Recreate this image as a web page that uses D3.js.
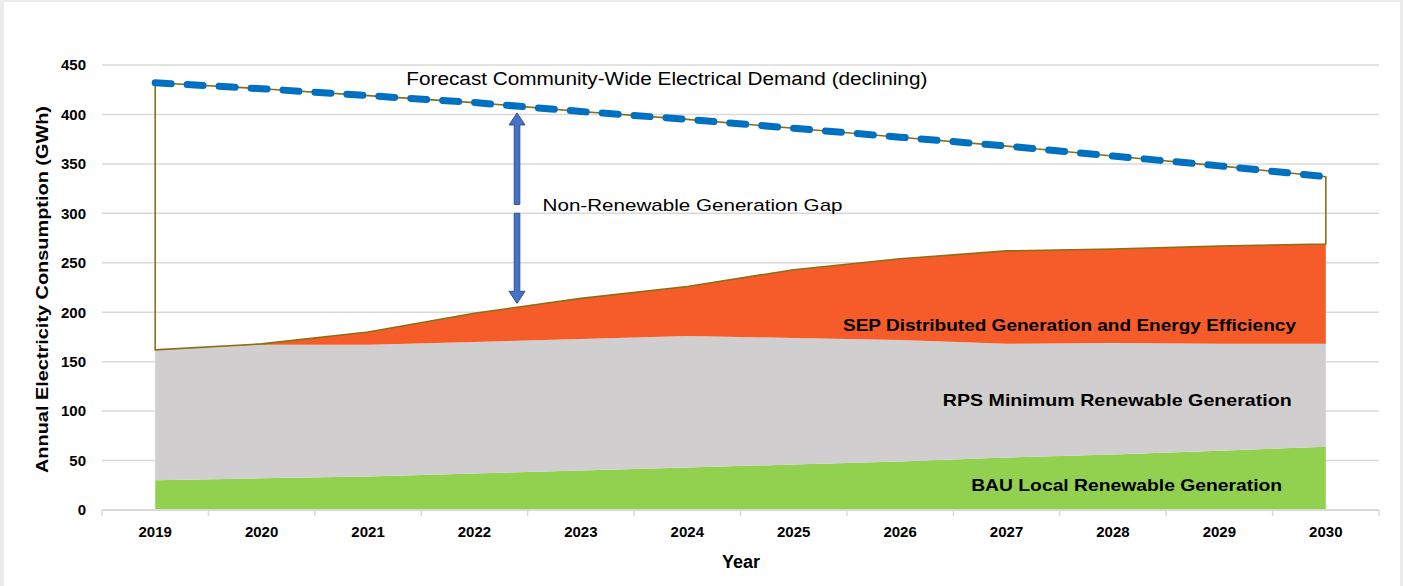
<!DOCTYPE html>
<html>
<head>
<meta charset="utf-8">
<script src="https://cdn.jsdelivr.net/npm/d3@7"></script>
<style>
  body { margin: 0; background: #ececec; }
  svg { display: block; }
  text { font-family: "Liberation Sans", Arial, sans-serif; fill: #000; }
</style>
</head>
<body>
<div class="chart"></div>
<script>
var width = 1403, height = 586;

// data (GWh)
var years = [2019, 2020, 2021, 2022, 2023, 2024, 2025, 2026, 2027, 2028, 2029, 2030];
var demand = [432, 426, 419, 412, 403, 395, 386, 377, 368, 358, 348, 337];
var bau = [30, 32, 34, 37, 40, 43, 46, 49, 53, 56, 60, 64];
var rps = [132, 135, 133, 133, 133, 133, 128, 123, 115, 113, 108, 104];
var sep = [0, 1, 13, 29, 41, 50, 69, 82, 94, 95, 99, 101];
var y_ticks = [0, 50, 100, 150, 200, 250, 300, 350, 400, 450];
var series_keys = ["bau", "rps", "sep"];
var series_colors = { bau: "#92D050", rps: "#D0CECE", sep: "#F65C2A" };

var margin = { top: 65, bottom: 76, left: 102, right: 24 };

var svg = d3.select(".chart").append("svg")
    .attr("width", width)
    .attr("height", height);

// white panel
svg.append("rect")
    .attr("x", 4).attr("y", 2)
    .attr("width", 1396).attr("height", height - 2)
    .attr("fill", "#fff");

var x_band = d3.scaleBand()
    .domain(years)
    .range([margin.left, width - margin.right]);

var x = d3.scalePoint()
    .domain(years)
    .range([margin.left, width - margin.right])
    .padding(0.5);

var y = d3.scaleLinear()
    .domain([0, 450])
    .range([height - margin.bottom, margin.top]);

// x value between categories (for annotations)
var x_mid = d3.scaleLinear()
    .domain([years[0], years[years.length - 1]])
    .range([x(years[0]), x(years[years.length - 1])]);

// gridlines
svg.append("g")
    .selectAll("line")
    .data(y_ticks.slice(1))
    .enter().append("line")
    .attr("x1", margin.left).attr("x2", width - margin.right)
    .attr("y1", d => y(d)).attr("y2", d => y(d))
    .attr("stroke", "#d9d9d9")
    .attr("stroke-width", 1.5);

// y axis labels
var y_axis = svg.append("g")
    .attr("transform", "translate(" + margin.left + ",0)")
    .call(d3.axisLeft(y).tickValues(y_ticks).tickSize(0).tickPadding(16));
y_axis.select(".domain").remove();
y_axis.selectAll("text")
    .attr("font-size", "15px")
    .attr("font-weight", "bold")
    .attr("font-family", "Liberation Sans, Arial, sans-serif");

// stacked areas
var table = years.map((yr, i) => ({ year: yr, bau: bau[i], rps: rps[i], sep: sep[i] }));
var stack = d3.stack().keys(series_keys)(table);

var area = d3.area()
    .x(d => x(d.data.year))
    .y0(d => y(d[0]))
    .y1(d => y(d[1]));

svg.append("g")
    .selectAll("path")
    .data(stack)
    .enter().append("path")
    .attr("d", area)
    .attr("fill", d => series_colors[d.key]);

// x axis
var x_axis_y = height - margin.bottom;
var x_axis = svg.append("g")
    .attr("transform", "translate(0," + x_axis_y + ")")
    .call(d3.axisBottom(x_band).tickSize(0).tickPadding(16));
x_axis.select(".domain")
    .attr("stroke", "#d9d9d9")
    .attr("stroke-width", 2)
    .attr("d", "M" + margin.left + ",0H" + (width - margin.right));
x_axis.selectAll("text")
    .attr("font-size", "15px")
    .attr("font-weight", "bold")
    .attr("font-family", "Liberation Sans, Arial, sans-serif");
// ticks on category edges
x_axis.append("g")
    .selectAll("line")
    .data(years.map(d => x_band(d)).concat([width - margin.right]))
    .enter().append("line")
    .attr("x1", d => d).attr("x2", d => d)
    .attr("y1", 0).attr("y2", 6)
    .attr("stroke", "#d9d9d9")
    .attr("stroke-width", 1.5);

// outline of the gap
var total = table.map(d => d.bau + d.rps + d.sep);
var gap_pts = years.map((yr, i) => [x(yr), y(demand[i])])
    .concat(years.slice().reverse().map((yr, i) => [x(yr), y(total[years.length - 1 - i])]));
svg.append("path")
    .attr("d", d3.line()(gap_pts) + "Z")
    .attr("fill", "none")
    .attr("stroke", "#8B6F14")
    .attr("stroke-width", 1.6);

// demand dashed line
svg.append("path")
    .datum(demand)
    .attr("d", d3.line().x((d, i) => x(years[i])).y(d => y(d)))
    .attr("fill", "none")
    .attr("stroke", "#0070C0")
    .attr("stroke-width", 7)
    .attr("stroke-linecap", "round")
    .attr("stroke-dasharray", "16 16");

// double arrow for the gap (values in GWh, broken where the label sits)
var arrow_year = 2022.4;
var arrow_top = 401.5, arrow_bottom = 209, arrow_break = [309, 300];
function arrowPath(x0, yTail, yTip) {
    var dir = yTip < yTail ? -1 : 1;
    var hw = 2.8, hh = 8, hl = 12;
    var yb = yTip - dir * hl;
    return "M" + (x0 - hw) + "," + yTail +
        "L" + (x0 - hw) + "," + yb +
        "L" + (x0 - hh) + "," + yb +
        "L" + x0 + "," + yTip +
        "L" + (x0 + hh) + "," + yb +
        "L" + (x0 + hw) + "," + yb +
        "L" + (x0 + hw) + "," + yTail + "Z";
}
var ax = x_mid(arrow_year);
svg.append("path")
    .attr("d", arrowPath(ax, y(arrow_break[0]), y(arrow_top)))
    .attr("fill", "#4472C4").attr("stroke", "#2F528F").attr("stroke-width", 1);
svg.append("path")
    .attr("d", arrowPath(ax, y(arrow_break[1]), y(arrow_bottom)))
    .attr("fill", "#4472C4").attr("stroke", "#2F528F").attr("stroke-width", 1);

// annotations
var labels = [
    { text: "Forecast Community-Wide Electrical Demand (declining)", year: 2021.36, value: 430, anchor: "start", size: 18, weight: "normal", len: 521 },
    { text: "Non-Renewable Generation Gap", year: 2022.64, value: 302, anchor: "start", size: 17, weight: "normal", len: 300 },
    { text: "SEP Distributed Generation and Energy Efficiency", year: 2030 - 0.28, value: 181, anchor: "end", size: 17, weight: "bold", len: 453 },
    { text: "RPS Minimum Renewable Generation", year: 2030 - 0.32, value: 105, anchor: "end", size: 17, weight: "bold", len: 349 },
    { text: "BAU Local Renewable Generation", year: 2030 - 0.41, value: 19, anchor: "end", size: 17, weight: "bold", len: 311 }
];
svg.append("g")
    .selectAll("text")
    .data(labels)
    .enter().append("text")
    .attr("x", d => x_mid(d.year))
    .attr("y", d => y(d.value))
    .attr("text-anchor", d => d.anchor)
    .attr("font-size", d => d.size + "px")
    .attr("font-weight", d => d.weight)
    .attr("textLength", d => d.len)
    .attr("lengthAdjust", "spacingAndGlyphs")
    .text(d => d.text);

// axis titles
svg.append("text")
    .attr("transform", "translate(48," + ((margin.top + height - margin.bottom) / 2 + 2) + ") rotate(-90)")
    .attr("text-anchor", "middle")
    .attr("font-size", "17px")
    .attr("font-weight", "bold")
    .attr("textLength", 367)
    .attr("lengthAdjust", "spacingAndGlyphs")
    .text("Annual Electricity Consumption (GWh)");

svg.append("text")
    .attr("x", 741)
    .attr("y", 568)
    .attr("text-anchor", "middle")
    .attr("font-size", "18px")
    .attr("font-weight", "bold")
    .text("Year");
</script>
</body>
</html>
